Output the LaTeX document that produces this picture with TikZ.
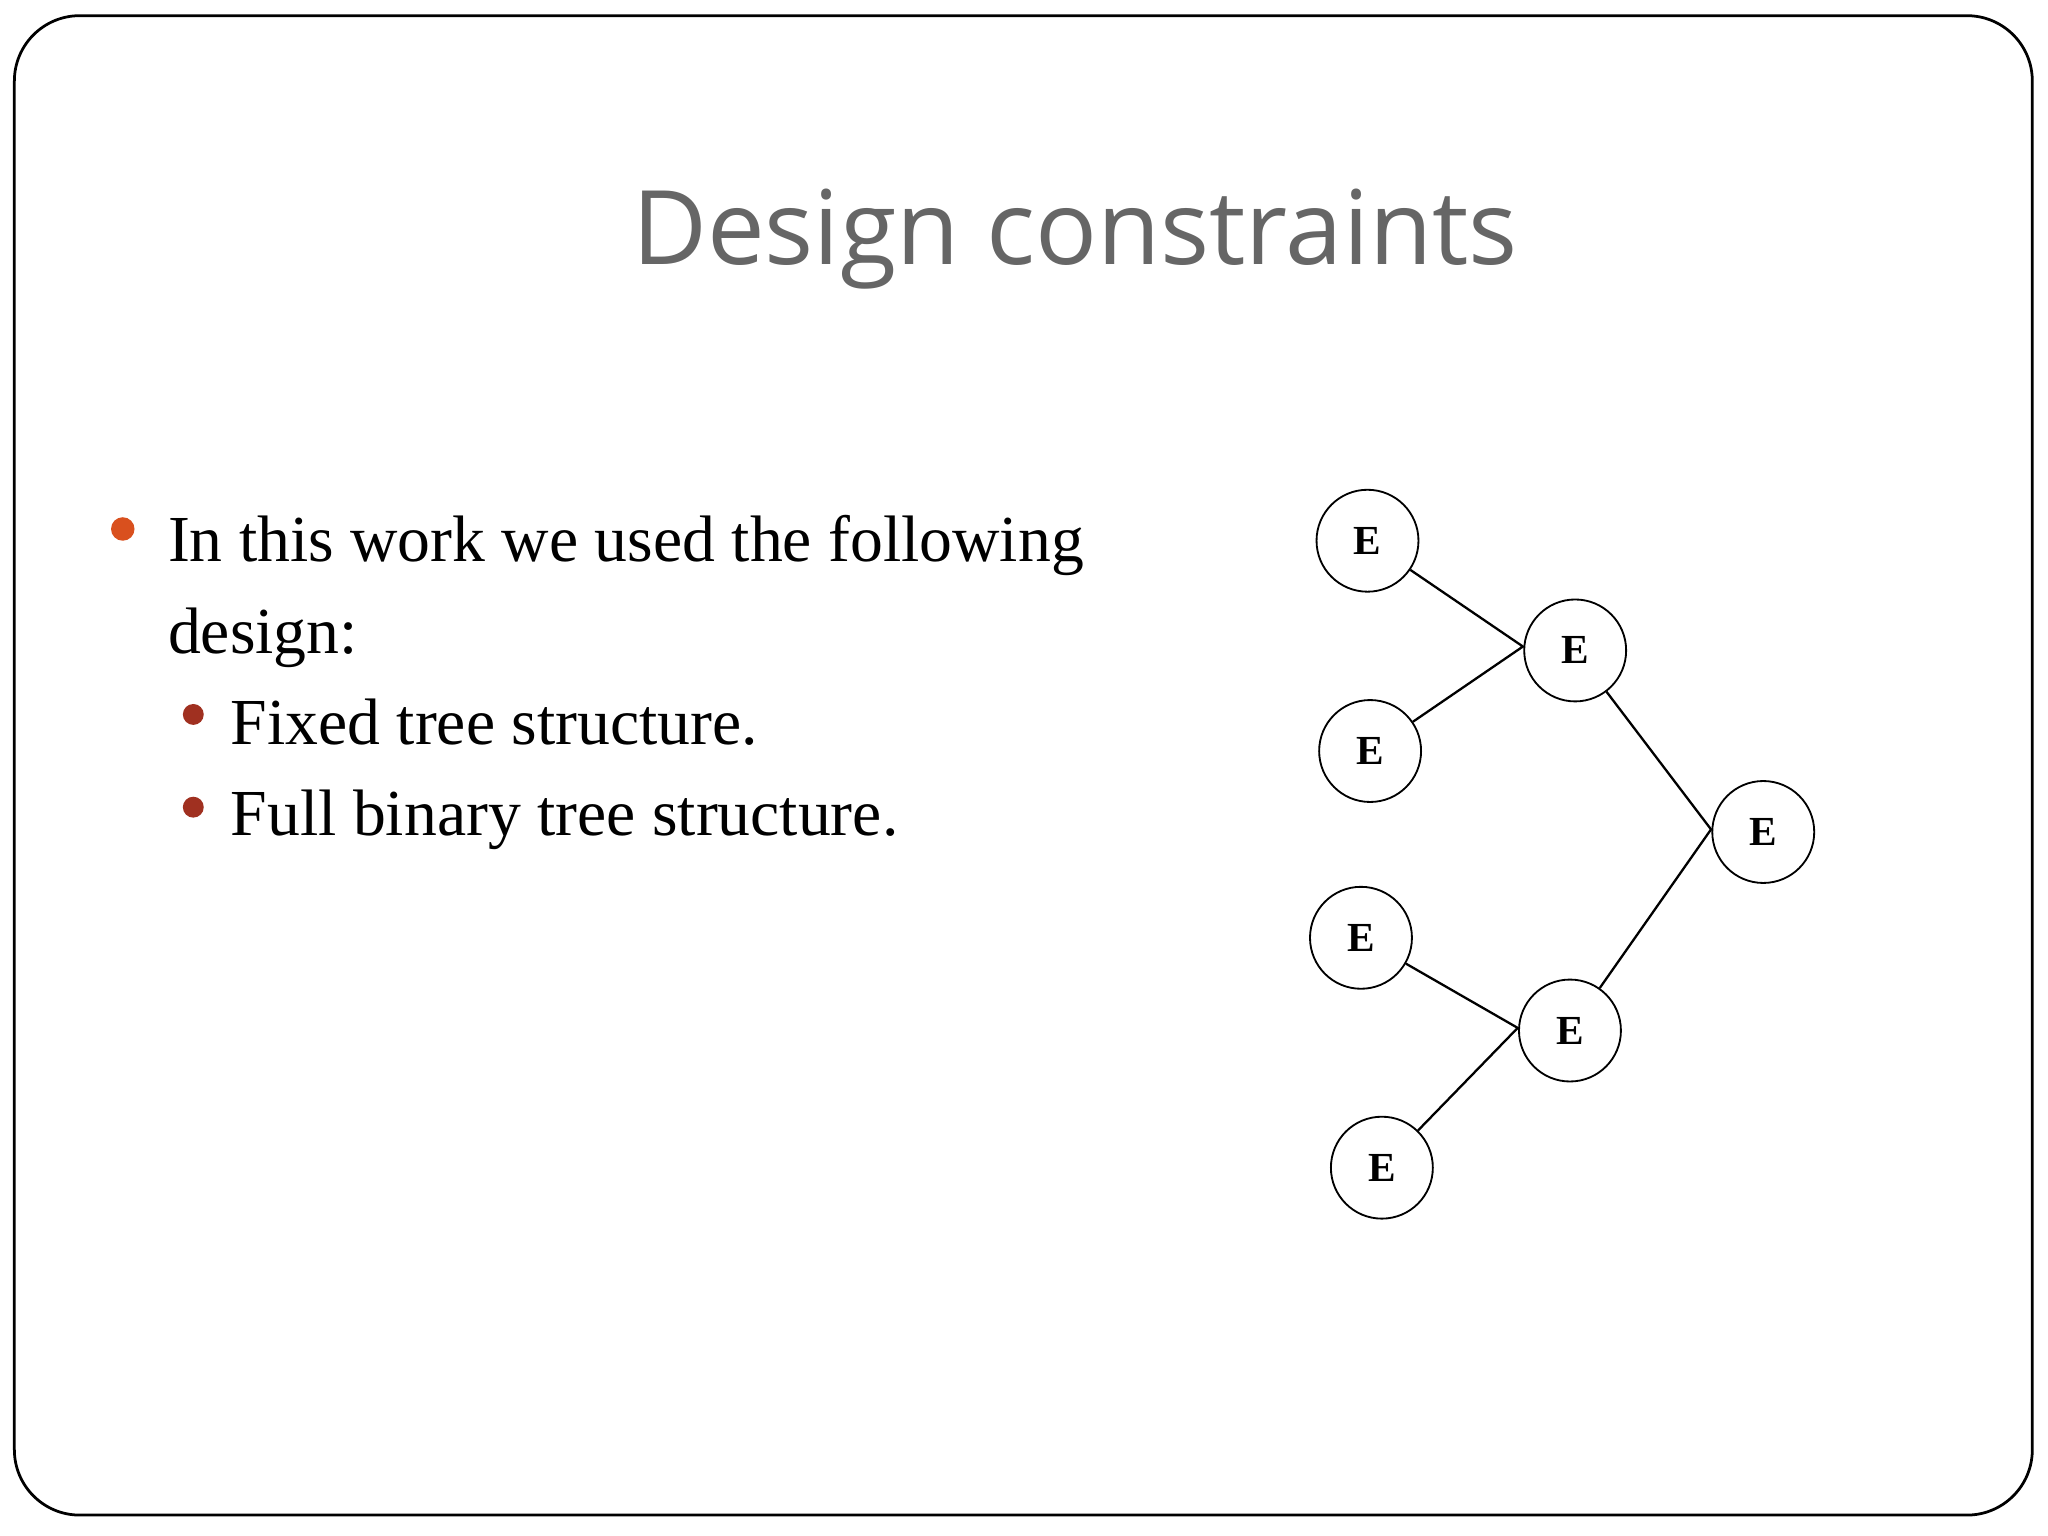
\documentclass[tikz,border=0pt]{standalone}
\usepackage{fontspec}
\setmainfont{Liberation Serif}
\setsansfont{Open Sans}
\definecolor{bulA}{HTML}{D9501E}
\definecolor{bulB}{HTML}{A03020}
\begin{document}
\begin{tikzpicture}[x=0.01cm,y=-0.01cm,
  enode/.style={draw,circle,minimum size=0.78cm,inner sep=0pt,font=\bfseries\small},
  edge/.style={draw,line width=0.5pt},
  bul/.style={anchor=base west,inner sep=0pt,font=\fontsize{14.3pt}{16pt}\selectfont}]
\useasboundingbox (0,0) rectangle (1568,1176);
\draw[rounded corners=0.5cm,line width=0.6pt] (11,12) rectangle (1556,1160);
\node[font=\sffamily\fontsize{22.4pt}{25pt}\selectfont,text=black!60] (title) at (823,183) {Design constraints};
\fill[bulA] (94,405) circle (9);
\node[bul] (l1) at (128,430) {In this work we used the following};
\node[bul] (l2) at (128,500) {design:};
\fill[bulB] (148,547) circle (8);
\node[bul] (s1) at (176,570) {Fixed tree structure.};
\fill[bulB] (148,618) circle (8);
\node[bul] (s2) at (176,640) {Full binary tree structure.};
\node[enode] (n1) at (1047,414) {E};
\node[enode] (n2) at (1206,498) {E};
\node[enode] (n3) at (1049,575) {E};
\node[enode] (n4) at (1350,637) {E};
\node[enode] (n5) at (1042,718) {E};
\node[enode] (n6) at (1202,789) {E};
\node[enode] (n7) at (1058,894) {E};
\coordinate (j2) at (1166,495);
\coordinate (j4) at (1310,635);
\coordinate (j6) at (1162,787);
\draw[edge] (n1) -- (j2) -- (n3);
\draw[edge] (n2) -- (j4) -- (n6);
\draw[edge] (n5) -- (j6) -- (n7);
\end{tikzpicture}
\end{document}
